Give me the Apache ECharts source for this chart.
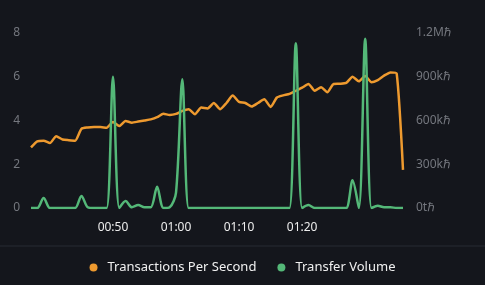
<!DOCTYPE html>
<html><head><meta charset="utf-8">
<script src="https://cdn.jsdelivr.net/npm/echarts@6/dist/echarts.min.js"></script>
<style>html,body{margin:0;padding:0;background:#14161c;}#c{width:485px;height:285px;}</style>
</head><body><div id="c"></div>
<script>
const times = [];
for (let m = 37; m <= 96; m++) { const h = Math.floor(m / 60), mm = m % 60; times.push(String(h).padStart(2,'0') + ':' + String(mm).padStart(2,'0')); }
const shownLabels = ['00:50','01:00','01:10','01:20'];
const tps = [2.77,3.05,3.08,2.97,3.28,3.13,3.1,3.08,3.62,3.68,
             3.7,3.7,3.67,3.93,3.75,3.98,3.9,3.95,4.0,4.05,
             4.15,4.31,4.25,4.3,4.44,4.52,4.29,4.59,4.55,4.8,
             4.52,4.8,5.14,4.85,4.8,4.64,4.8,4.97,4.62,5.05,
             5.15,5.22,5.36,5.5,5.67,5.36,5.52,5.29,5.67,5.68,
             5.72,6.0,5.79,6.03,5.75,5.85,6.05,6.2,6.14,1.74];
const volume = [0,0,69000,0,0,0,0,0,83000,5000,
                0,0,0,900000,0,48000,5000,20000,5000,5000,
                145000,0,5000,105000,883000,0,0,0,0,0,
                0,0,0,0,0,0,0,0,0,0,
                0,0,1130000,0,20000,0,0,0,0,0,
                0,190000,0,1160000,0,15000,5000,5000,0,0];
const leftTicks = [0,2,4,6,8];
const rightTicks = [0,300000,600000,900000,1200000];
const rightLabels = ['0tℏ','300kℏ','600kℏ','900kℏ','1.2Mℏ'];

const chart = echarts.init(document.getElementById('c'));
chart.setOption({
  backgroundColor: '#14161c',
  animation: false,
  textStyle: { fontFamily: 'Noto Sans' },
  grid: { left: 31, right: 82, top: 33, bottom: 77 },
  graphic: [{ type: 'line', shape: { x1: 0, y1: 246, x2: 485, y2: 246 }, style: { stroke: '#262a33', lineWidth: 1 } }],
  legend: {
    bottom: 6, left: 'center', itemWidth: 8, itemHeight: 8, itemGap: 21, icon: 'circle',
    textStyle: { color: '#f0f0f0', fontSize: 13, fontFamily: 'Noto Sans', padding: [0, 0, 0, 5] },
    data: ['Transactions Per Second', 'Transfer Volume']
  },
  xAxis: {
    type: 'category', data: times, boundaryGap: false,
    axisLine: { show: false }, axisTick: { show: false }, splitLine: { show: false },
    axisLabel: { color: '#ededed', fontSize: 12, margin: 14, interval: (i, v) => shownLabels.includes(v) }
  },
  yAxis: [{
    type: 'value', min: leftTicks[0], max: leftTicks[leftTicks.length-1], interval: 2,
    axisLine: { show: false }, axisTick: { show: false }, splitLine: { show: false },
    axisLabel: { color: '#74777e', fontSize: 12, margin: 11 }
  }, {
    type: 'value', min: rightTicks[0], max: rightTicks[rightTicks.length-1], interval: 300000,
    axisLine: { show: false }, axisTick: { show: false }, splitLine: { show: false },
    axisLabel: { color: '#74777e', fontSize: 12, margin: 13,
      formatter: v => rightLabels[rightTicks.indexOf(v)] }
  }],
  series: [{
    name: 'Transactions Per Second', type: 'line', yAxisIndex: 0, data: tps,
    smooth: 0.2, showSymbol: false, lineStyle: { color: '#ee9a2f', width: 2.5 }, itemStyle: { color: '#ee9a2f' }
  }, {
    name: 'Transfer Volume', type: 'line', yAxisIndex: 1, data: volume,
    smooth: 0.3, showSymbol: false, lineStyle: { color: '#54b878', width: 2.5 }, itemStyle: { color: '#54b878' }
  }]
});
</script></body></html>
